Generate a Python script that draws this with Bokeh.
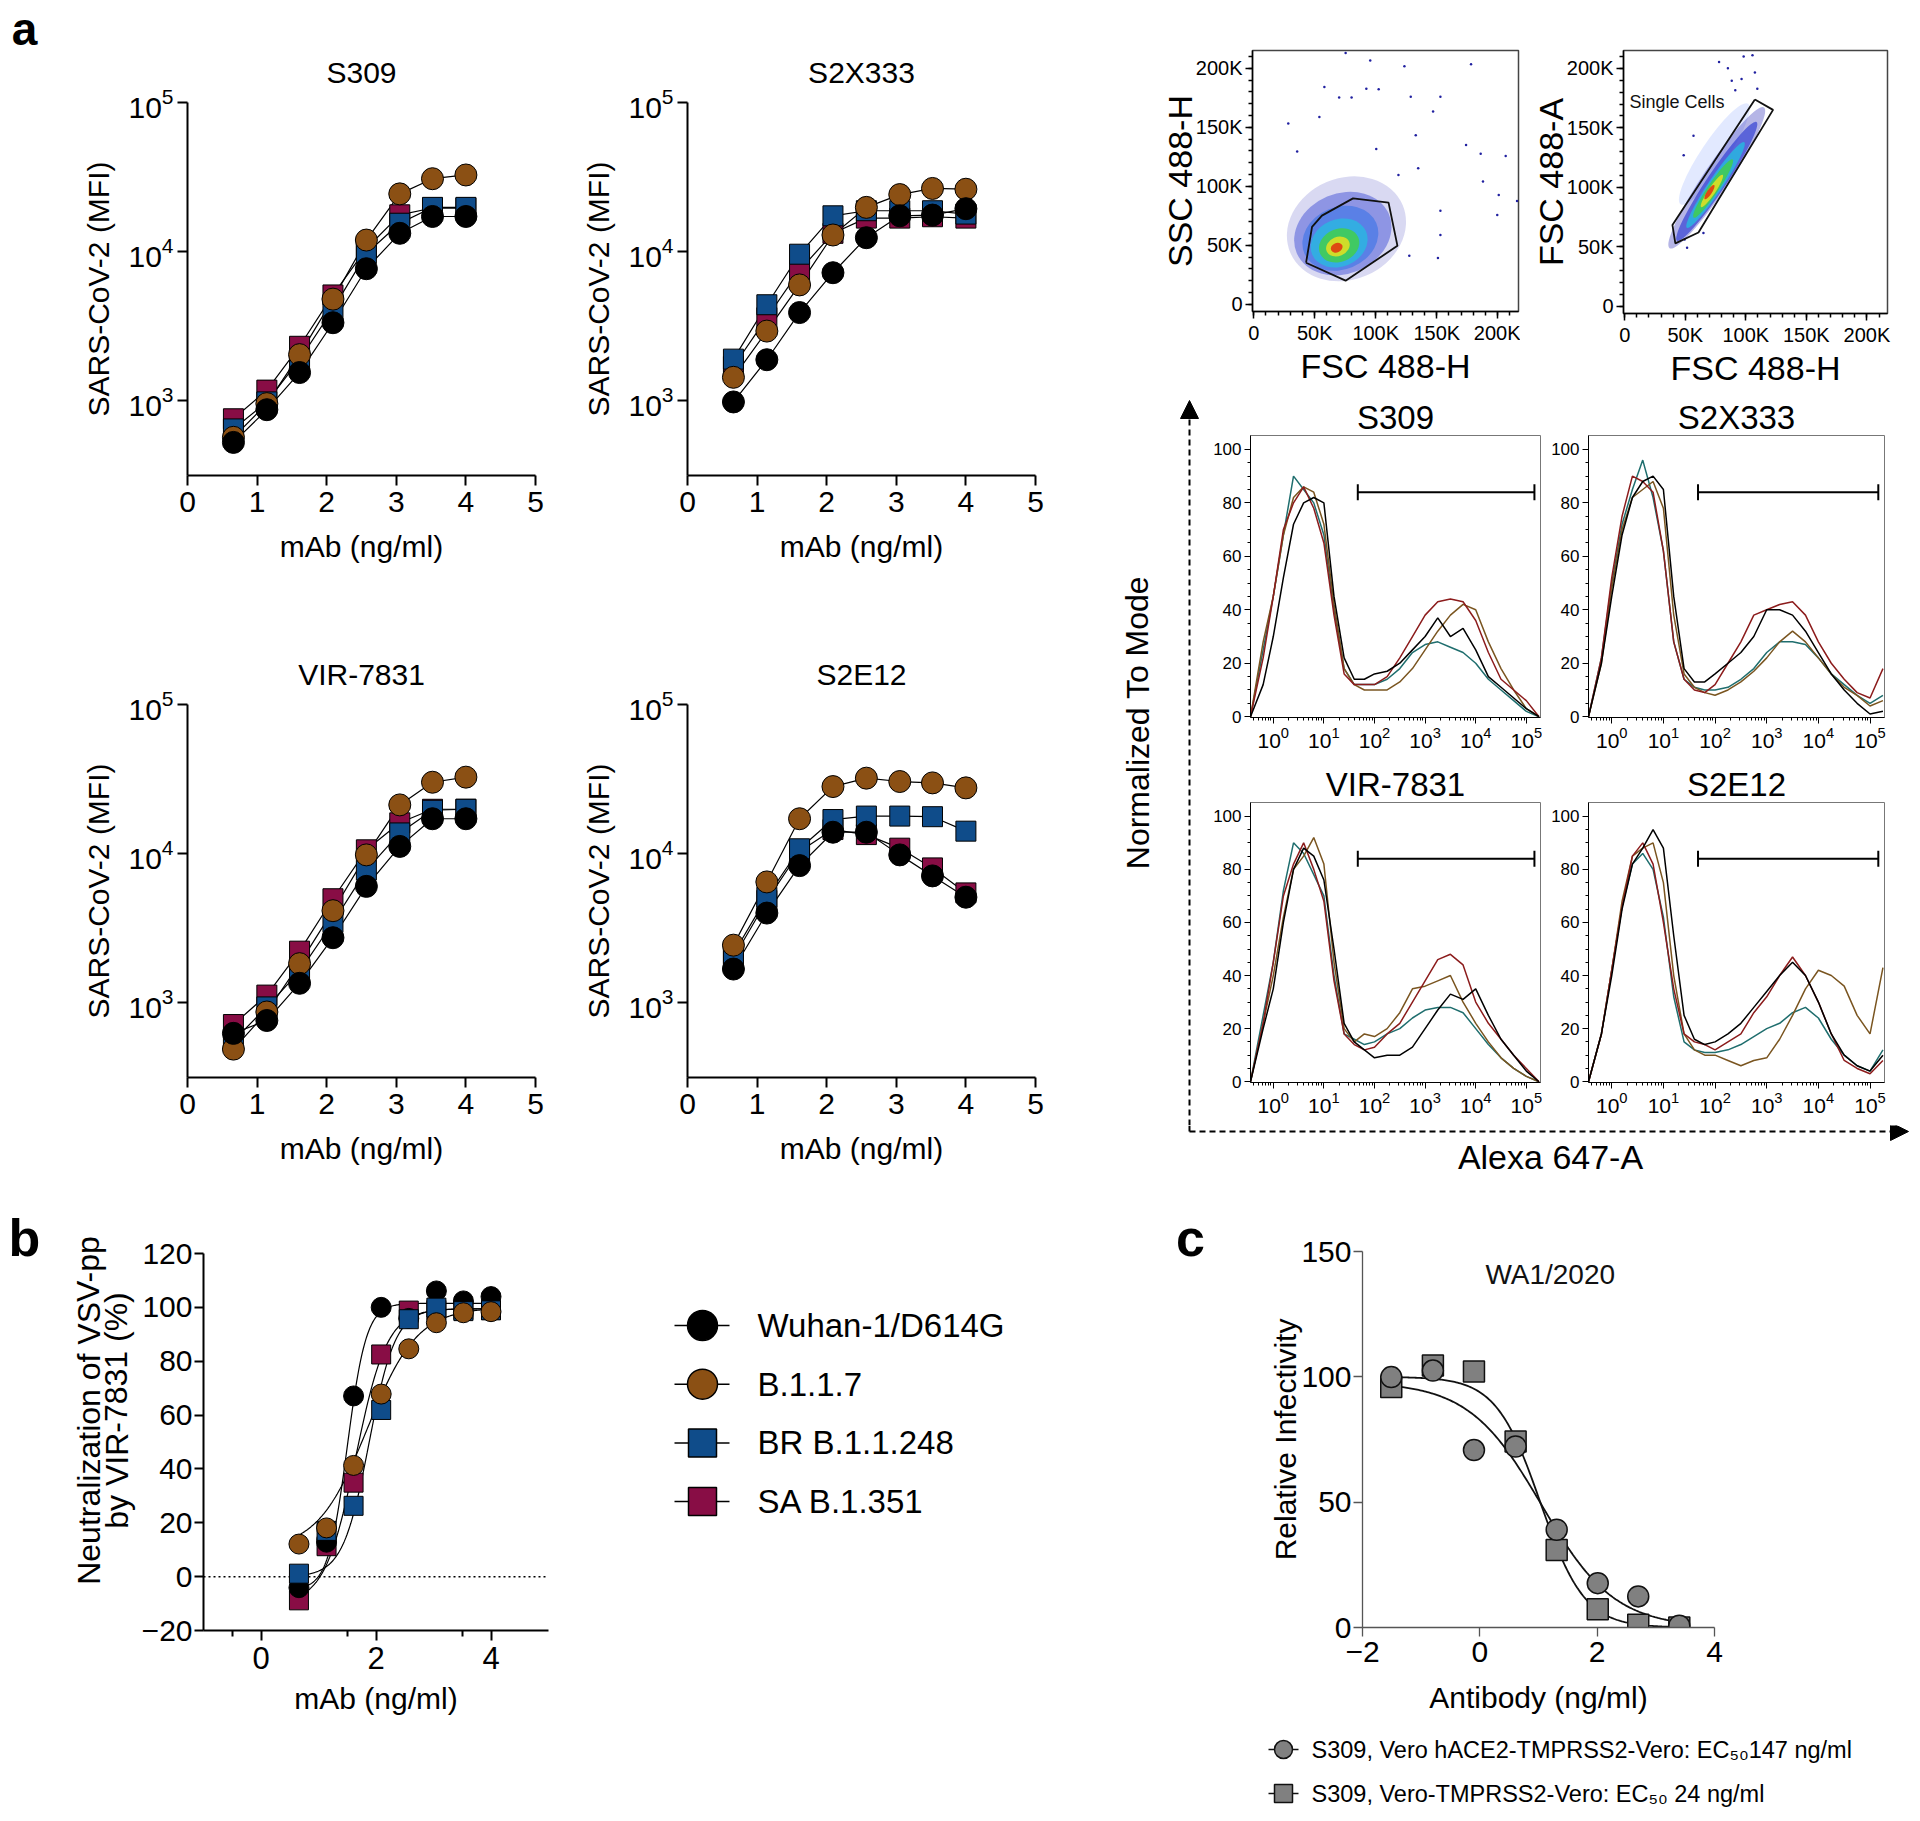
import math
from bokeh.plotting import figure
from bokeh.layouts import row, column
from bokeh.models import (Range1d, FixedTicker, Label, Arrow, NormalHead,
                          CustomJSTickFormatter)
from bokeh.core.properties import value
from bokeh.embed import file_html
from bokeh.resources import INLINE

SANS = "Liberation Sans"

# ---------------- panel a : binding curves ----------------
log_mab = [0.66, 1.14, 1.61, 2.09, 2.57, 3.05, 3.52, 4.00]
variant_names = ["Wuhan-1/D614G", "B.1.1.7", "BR B.1.1.248", "SA B.1.351"]
variant_colors = ["#000000", "#8B5014", "#0F4C8A", "#880D45"]
variant_markers = ["circle", "circle", "square", "square"]

s309_wuhan = [527, 873, 1549, 3342, 7690, 13280, 17220, 17220]
s309_b117 = [570, 959, 2042, 4810, 11970, 24410, 30850, 32680]
s309_br = [649, 985, 1888, 4120, 9720, 15520, 19820, 19820]
s309_sa = [759, 1181, 2323, 5130, 10500, 17670, 19620, 19620]

s2x333_wuhan = [984, 1888, 3910, 7230, 12410, 17400, 17600, 19420]
s2x333_b117 = [1439, 2937, 5990, 12940, 19820, 24150, 26540, 26230]
s2x333_br = [1905, 4410, 9620, 17400, 18820, 18820, 18820, 17870]
s2x333_sa = [1700, 3610, 7500, 13280, 16790, 16790, 17150, 16790]

vir7831_wuhan = [625, 762, 1353, 2735, 6040, 11190, 17150, 17150]
vir7831_b117 = [490, 869, 1832, 4150, 9820, 21240, 30130, 32590]
vir7831_br = [557, 940, 1625, 3460, 7760, 13780, 19550, 19850]
vir7831_sa = [716, 1128, 2222, 4990, 10620, 16110, 19850, 19850]

s2e12_wuhan = [1686, 4000, 8320, 13930, 13930, 9820, 7100, 5110]
s2e12_b117 = [2438, 6470, 17150, 28180, 32090, 30460, 29830, 27620]
s2e12_br = [2133, 5110, 10790, 16940, 17870, 17870, 17700, 14160]
s2e12_sa = [2000, 4860, 10350, 14520, 13430, 10890, 8030, 5460]

# ---------------- panel a : flow cytometry ----------------
ssc_dots_x = [75.3, 95.5, 123.5, 178.1, 57.9, 70.0, 80.2, 92.3, 102.4, 128.7, 153.0, 147.0,
              53.8, 28.3, 174.0, 186.0, 206.5, 187.9, 200.8, 199.6, 132.8, 100.4, 35.6,
              151.0, 127.5, 215.8, 153.0, 134.8, 118.6, 153.0]
ssc_dots_y = [212.9, 206.6, 201.7, 203.3, 184.0, 175.2, 175.2, 182.6, 182.1, 175.8, 175.8, 163.4,
              158.7, 153.2, 135.0, 127.5, 125.6, 104.1, 92.6, 75.8, 143.3, 131.7, 129.5,
              39.4, 41.3, 87.6, 58.7, 115.2, 109.6, 79.3]
ssc_density_x = [76, 73, 71, 70, 70, 69, 68]
ssc_density_y = [64, 60, 56, 52, 50, 49, 48]
ssc_density_w = [100, 82, 64, 48, 34, 20, 10]
ssc_density_h = [86, 68, 53, 40, 28, 16, 8]
density_colors7 = ["#2a2ab8", "#1f2fd0", "#2f6fe8", "#22c0e0", "#44d044", "#e8e020", "#e03a10"]
density_alpha7 = [0.18, 0.4, 0.55, 0.7, 0.8, 0.85, 0.9]
ssc_gate_x = [42.9, 47.8, 55.9, 81.4, 110.5, 117.8, 75.3, 42.9]
ssc_gate_y = [35.3, 65.6, 75.2, 89.8, 86.2, 49.6, 20.1, 35.3]

fsc_dots_x = [77.9, 98.2, 105.5, 85.2, 107.5, 88.4, 96.5, 109.5, 91.3, 49.5, 51.5, 65.0, 48.7, 56.8]
fsc_dots_y = [205.4, 210.0, 211.0, 200.0, 196.5, 189.6, 191.0, 182.8, 181.5, 56.1, 49.3, 61.6, 127.0, 143.3]
fsc_density_x = [74, 76, 76, 75, 73, 72, 70]
fsc_density_y = [128, 108, 105, 102, 99, 97, 96]
fsc_density_len = [100, 140, 118, 85, 58, 32, 14]
fsc_density_wid = [22, 22, 16, 12, 9, 6, 4]
fsc_density_colors = ["#7090ff", "#2a2ab8", "#1f2fd0", "#22c0e0", "#44d044", "#e8e020", "#e03a10"]
fsc_density_alpha = [0.2, 0.35, 0.6, 0.75, 0.8, 0.85, 0.9]
fsc_gate_x = [107.5, 122.5, 60.9, 41.8, 39.4, 107.5]
fsc_gate_y = [173.8, 165.1, 62.1, 52.9, 68.4, 173.8]

hist_decades = [-0.45, -0.2, 0.0, 0.2, 0.4, 0.6, 0.8, 1.0, 1.2, 1.4, 1.6, 1.8, 2.0,
                2.25, 2.5, 2.75, 3.0, 3.25, 3.5, 3.75, 4.0, 4.25, 4.5, 4.75, 5.0, 5.25]
hist_colors = ["#1f6e6e", "#7a5520", "#8c1c1c", "#000000"]   # teal, brown, red, black
hist_s309 = [
    [0, 25, 45, 68, 90, 85, 80, 68, 40, 18, 12, 12, 12, 14, 18, 24, 27, 28, 26, 24, 20, 14, 10, 6, 2, 0],
    [0, 28, 45, 68, 82, 86, 84, 72, 42, 18, 12, 10, 10, 10, 13, 18, 25, 32, 38, 42, 40, 28, 18, 10, 3, 0],
    [0, 22, 45, 70, 80, 86, 78, 65, 38, 16, 12, 12, 12, 15, 22, 30, 38, 43, 44, 43, 36, 24, 14, 10, 6, 0],
    [0, 12, 30, 52, 72, 80, 82, 80, 45, 22, 14, 14, 16, 17, 20, 25, 30, 37, 30, 33, 25, 15, 11, 7, 3, 0]]
hist_s2x333 = [
    [0, 22, 50, 72, 85, 96, 82, 62, 28, 14, 11, 10, 10, 11, 14, 18, 24, 28, 28, 27, 22, 16, 12, 8, 5, 8],
    [0, 20, 48, 70, 82, 85, 88, 78, 38, 16, 11, 9, 8, 10, 13, 17, 22, 28, 32, 28, 22, 16, 11, 8, 4, 6],
    [0, 22, 52, 75, 90, 88, 84, 62, 28, 14, 10, 9, 12, 20, 28, 38, 40, 42, 43, 38, 28, 20, 14, 9, 7, 18],
    [0, 20, 45, 68, 82, 88, 90, 85, 45, 18, 13, 13, 16, 20, 24, 30, 40, 40, 38, 32, 24, 16, 10, 5, 1, 2]]
hist_vir7831 = [
    [0, 25, 45, 72, 90, 86, 78, 70, 40, 18, 16, 14, 15, 18, 20, 24, 27, 28, 28, 26, 20, 14, 9, 5, 2, 0],
    [0, 22, 40, 62, 80, 85, 92, 82, 45, 20, 15, 18, 17, 20, 26, 35, 36, 38, 40, 30, 22, 15, 9, 5, 2, 0],
    [0, 22, 45, 70, 82, 90, 80, 68, 38, 18, 14, 12, 13, 18, 22, 30, 38, 46, 48, 44, 30, 22, 16, 10, 5, 0],
    [0, 20, 35, 60, 80, 88, 85, 76, 50, 22, 15, 12, 9, 10, 10, 13, 20, 27, 33, 31, 35, 25, 16, 10, 4, 0]]
hist_s2e12 = [
    [0, 18, 42, 66, 82, 86, 80, 62, 32, 15, 12, 11, 11, 12, 14, 17, 20, 22, 26, 28, 24, 16, 10, 6, 4, 12],
    [0, 18, 42, 68, 85, 88, 90, 75, 40, 18, 12, 10, 10, 8, 6, 8, 9, 16, 25, 35, 42, 40, 36, 25, 18, 43],
    [0, 18, 42, 66, 85, 90, 82, 60, 35, 18, 15, 14, 12, 15, 18, 26, 32, 40, 47, 40, 30, 18, 8, 5, 3, 8],
    [0, 18, 40, 65, 82, 88, 95, 88, 55, 25, 16, 14, 15, 18, 22, 28, 34, 40, 45, 40, 30, 18, 10, 6, 4, 10]]
hist_gate_decades = [1.67, 5.16]
hist_gate_level = 84

# ---------------- panel b : neutralization ----------------
neut_wuhan = [-4.1, 12.8, 67.1, 100.0, 95.9, 106.1, 102.4, 104.0]
neut_b117 = [12.1, 18.1, 41.3, 67.8, 84.6, 94.3, 98.0, 98.4]
neut_br = [1.1, 17.0, 26.3, 61.9, 95.6, 99.9, 98.6, 98.9]
neut_sa = [-8.8, 11.3, 34.9, 82.5, 98.8, 99.0, 99.0, 99.0]
b_fit_bottom = [-5.0, 10.0, 0.0, -10.0]
b_fit_top = [101.5, 100.0, 99.5, 99.5]
b_fit_logec50 = [1.50, 1.85, 1.88, 1.65]
b_fit_hill = [2.6, 1.0, 1.9, 1.6]
b_ylabel_lines = ["Neutralization of VSV-pp", "by VIR-7831 (%)"]

# ---------------- panel c : infectivity ----------------
c_log_conc = [-1.51, -0.80, -0.10, 0.61, 1.31, 2.01, 2.70, 3.40]
c_hace2 = [99.9, 102.5, 70.8, 72.2, 39.0, 17.7, 12.4, 0.7]
c_tmprss2 = [95.9, 104.5, 102.1, 74.2, 30.9, 7.3, 1.1, 0.0]
c_fit_top = [98.0, 100.0]
c_fit_logec50 = [1.05, 1.03]
c_fit_hill = [0.7, 1.15]
c_legend = ["S309, Vero hACE2-TMPRSS2-Vero: EC\u2085\u2080147 ng/ml",
            "S309, Vero-TMPRSS2-Vero: EC\u2085\u2080 24 ng/ml"]


# ================= helpers =================
def make_fig(w, h, xr, yr, ml, mr, mt, mb, **kw):
    p = figure(width=w, height=h, x_range=xr, y_range=yr, output_backend="svg",
               toolbar_location=None, min_border_left=ml, min_border_right=mr,
               min_border_top=mt, min_border_bottom=mb, frame_align=False, **kw)
    p.grid.visible = False
    p.outline_line_color = None
    return p


def set_title(p, text, size, standoff, offset=0):
    p.title.text = text
    p.title.align = "center"
    p.title.offset = offset
    p.title.text_font = SANS
    p.title.text_font_size = f"{size}px"
    p.title.text_font_style = "normal"
    p.title.text_color = "black"
    p.title.standoff = standoff


def style_axis(ax, size, lw, tick_out, label_size, minor_out=0,
               tick_standoff=4, label_standoff=6, color="black"):
    ax.axis_line_color = color
    ax.axis_line_width = lw
    ax.major_tick_line_color = color
    ax.major_tick_line_width = lw
    ax.major_tick_out = tick_out
    ax.major_tick_in = 0
    if minor_out:
        ax.minor_tick_line_color = color
        ax.minor_tick_line_width = lw
        ax.minor_tick_out = minor_out
        ax.minor_tick_in = 0
    else:
        ax.minor_tick_line_color = None
    ax.major_label_text_font = SANS
    ax.major_label_text_font_size = f"{size}px"
    ax.major_label_text_color = "black"
    ax.major_label_standoff = tick_standoff
    ax.axis_label_text_font = SANS
    ax.axis_label_text_font_style = "normal"
    ax.axis_label_text_font_size = f"{label_size}px"
    ax.axis_label_text_color = "black"
    ax.axis_label_standoff = label_standoff


def dose_panel(title, series, w, h, ml, mr, mt, mb, title_offset=0):
    p = make_fig(w, h, Range1d(0, 5), Range1d(10 ** 2.5, 1e5), ml, mr, mt, mb,
                 y_axis_type="log")
    set_title(p, title, 30, 27, title_offset)
    order = [3, 2, 1, 0]
    for i in order:
        p.line(log_mab, series[i], line_color="black", line_width=1.2)
    for i in order:
        p.scatter(log_mab, series[i], marker=variant_markers[i],
                  size=22 if variant_markers[i] == "circle" else 20,
                  fill_color=variant_colors[i], line_color="black", line_width=1)
    p.xaxis.ticker = FixedTicker(ticks=[0, 1, 2, 3, 4, 5])
    p.yaxis.ticker = FixedTicker(ticks=[1e3, 1e4, 1e5])
    p.xaxis.axis_label = "mAb (ng/ml)"
    p.yaxis.axis_label = "SARS-CoV-2 (MFI)"
    style_axis(p.xaxis[0], 30, 2, 10, 30, tick_standoff=6, label_standoff=15)
    style_axis(p.yaxis[0], 30, 2, 10, 30, tick_standoff=4, label_standoff=10)
    return p


def flow_scatter(w, h, ml, mr, mt, mb, ylabel, dens, dots, gate, single=False):
    p = make_fig(w, h, Range1d(-1, 217), Range1d(-6, 215), ml, mr, mt, mb)
    p.outline_line_color = "#444444"
    p.outline_line_width = 1.5
    dx, dy, dw, dh, dang, dcol, dalpha = dens
    p.ellipse(x=dx, y=dy, width=dw, height=dh, angle=dang, fill_color=dcol,
              fill_alpha=dalpha, line_color=None)
    p.scatter(dots[0], dots[1], size=2.5, color="#2020a0", line_color=None)
    p.line(gate[0], gate[1], line_color="#111111", line_width=1.8)
    fmt = CustomJSTickFormatter(code="return tick == 0 ? '0' : tick + 'K';")
    for ax in (p.xaxis[0], p.yaxis[0]):
        ax.ticker = FixedTicker(ticks=[0, 50, 100, 150, 200],
                                minor_ticks=list(range(0, 220, 10)))
        ax.formatter = fmt
        style_axis(ax, 20, 1.5, 7, 34, minor_out=4, tick_standoff=3)
    p.xaxis.axis_label = "FSC 488-H"
    p.yaxis.axis_label = ylabel
    p.xaxis.axis_label_standoff = 0
    p.yaxis.axis_label_standoff = -6
    if single:
        p.add_layout(Label(x=4, y=172, text="Single Cells", text_align="left",
                           text_baseline="middle", text_font=SANS, text_font_size="18px",
                           text_color="#111111"))
    return p


def hist_panel(title, curves, w, h, ml, mr, mt, mb, title_offset):
    p = make_fig(w, h, Range1d(10 ** -0.45, 10 ** 5.28), Range1d(-0.3, 105.2),
                 ml, mr, mt, mb, x_axis_type="log")
    set_title(p, title, 33, 0, title_offset)
    p.outline_line_color = "#777777"
    xs = [10 ** g for g in hist_decades]
    for col, ys in zip(hist_colors, curves):
        p.line(xs, ys, line_color=col, line_width=1.5)
    gx0, gx1 = 10 ** hist_gate_decades[0], 10 ** hist_gate_decades[1]
    p.segment(x0=[gx0, gx0, gx1], y0=[hist_gate_level, hist_gate_level - 3, hist_gate_level - 3],
              x1=[gx1, gx0, gx1], y1=[hist_gate_level, hist_gate_level + 3, hist_gate_level + 3],
              line_color="black", line_width=2)
    majors = [10 ** k for k in range(0, 6)]
    minors = [m * 10 ** k for k in range(-1, 6) for m in range(2, 10)
              if 10 ** -0.45 < m * 10 ** k < 10 ** 5.28]
    p.xaxis.ticker = FixedTicker(ticks=majors, minor_ticks=minors)
    p.yaxis.ticker = FixedTicker(ticks=[0, 20, 40, 60, 80, 100],
                                 minor_ticks=list(range(0, 105, 5)))
    style_axis(p.xaxis[0], 21, 1, 6, 17, minor_out=3, tick_standoff=3)
    style_axis(p.yaxis[0], 17, 1, 6, 17, minor_out=3, tick_standoff=3)
    return p


def pixel_fig(w, h):
    p = figure(width=w, height=h, x_range=Range1d(0, w), y_range=Range1d(h, 0),
               output_backend="svg", toolbar_location=None, x_axis_location=None,
               y_axis_location=None, min_border=0, frame_align=False)
    p.grid.visible = False
    p.outline_line_color = None
    return p


def letter_fig(w, h, letter, x, y, size):
    p = pixel_fig(w, h)
    p.text(x=[x], y=[y], text=[letter], text_font=value(SANS), text_font_size=f"{size}px",
           text_font_style="bold", text_align="center", text_baseline="middle",
           text_color="black")
    return p


def logistic(x, bottom, top, logec50, hill):
    return bottom + (top - bottom) / (1 + 10 ** ((logec50 - x) * hill))


# ================= panel a =================
let_a = letter_fig(60, 1195, "a", 24, 28, 46)
a1 = dose_panel("S309", [s309_wuhan, s309_b117, s309_br, s309_sa],
                500, 600, 127, 25, 102, 125, -8)
a2 = dose_panel("S2X333", [s2x333_wuhan, s2x333_b117, s2x333_br, s2x333_sa],
                550, 600, 127, 75, 102, 125)
a3 = dose_panel("VIR-7831", [vir7831_wuhan, vir7831_b117, vir7831_br, vir7831_sa],
                500, 595, 127, 25, 104, 118)
a4 = dose_panel("S2E12", [s2e12_wuhan, s2e12_b117, s2e12_br, s2e12_sa],
                550, 595, 127, 75, 104, 118)

sc1 = flow_scatter(410, 394, 142, 2, 50, 83, "SSC 488-H",
                   (ssc_density_x, ssc_density_y, ssc_density_w, ssc_density_h,
                    [0.4] * 7, density_colors7, density_alpha7),
                   (ssc_dots_x, ssc_dots_y), (ssc_gate_x, ssc_gate_y))
sc2 = flow_scatter(390, 394, 103, 23, 50, 81, "FSC 488-A",
                   (fsc_density_x, fsc_density_y, fsc_density_len, fsc_density_wid,
                    [0.98] * 7, fsc_density_colors, fsc_density_alpha),
                   (fsc_dots_x, fsc_dots_y), (fsc_gate_x, fsc_gate_y), single=True)

h1 = hist_panel("S309", hist_s309, 342, 366, 50, 2, 41, 43, -12)
h2 = hist_panel("S2X333", hist_s2x333, 368, 366, 46, 26, 41, 43, 9)
h3 = hist_panel("VIR-7831", hist_vir7831, 342, 365, 50, 2, 42, 43, -9)
h4 = hist_panel("S2E12", hist_s2e12, 368, 365, 46, 26, 42, 43, 12)

margin = pixel_fig(90, 731)
margin.add_layout(Arrow(end=NormalHead(size=18, fill_color="black", line_color="black"),
                        x_start=79, y_start=731, x_end=79, y_end=6,
                        line_color="black", line_width=2, line_dash="6 4"))
margin.text(x=[27], y=[328], text=["Normalized To Mode"], angle=[math.pi / 2],
            text_align="center", text_baseline="middle", text_font=value(SANS),
            text_font_size="32px", text_color="black")

bottom = pixel_fig(800, 70)
bottom.segment(x0=[79], y0=[0], x1=[79], y1=[6], line_color="black", line_width=2,
               line_dash="6 4")
bottom.add_layout(Arrow(end=NormalHead(size=18, fill_color="black", line_color="black"),
                        x_start=79, y_start=6, x_end=798, y_end=6,
                        line_color="black", line_width=2, line_dash="6 4"))
bottom.text(x=[440], y=[31], text=["Alexa 647-A"], text_align="center",
            text_baseline="middle", text_font=value(SANS), text_font_size="34px",
            text_color="black")

# ================= panel b =================
let_b = letter_fig(138, 616, "b", 24, 42, 52)
let_b.text(x=[88, 116], y=[215, 215], text=b_ylabel_lines, angle=[math.pi / 2] * 2,
           text_align="center", text_baseline="middle", text_font=value(SANS),
           text_font_size="32px", text_color="black")
pb = make_fig(482, 616, Range1d(-1, 5), Range1d(-20, 120), 65, 72, 58, 181)
b_series = [neut_wuhan, neut_b117, neut_br, neut_sa]
pb.line([-1, 5], [0, 0], line_color="black", line_width=1.5, line_dash="2 3")
for i in range(4):
    xs = [log_mab[0] + (log_mab[-1] - log_mab[0]) * k / 200 for k in range(201)]
    ys = [logistic(x, b_fit_bottom[i], b_fit_top[i], b_fit_logec50[i], b_fit_hill[i]) for x in xs]
    pb.line(xs, ys, line_color="black", line_width=1.2)
for i in [3, 0, 2, 1]:
    pb.scatter(log_mab, b_series[i], marker=variant_markers[i],
               size=20 if variant_markers[i] == "circle" else 19,
               fill_color=variant_colors[i], line_color="black", line_width=1)
pb.xaxis.ticker = FixedTicker(ticks=[0, 2, 4], minor_ticks=[-0.5, 1.5, 3.5])
pb.yaxis.ticker = FixedTicker(ticks=[-20, 0, 20, 40, 60, 80, 100, 120])
pb.xaxis.axis_label = "mAb (ng/ml)"
style_axis(pb.xaxis[0], 31, 2, 10, 30, minor_out=6, tick_standoff=6, label_standoff=10)
style_axis(pb.yaxis[0], 30, 2, 9, 30, tick_standoff=2, label_standoff=0)

leg_b = pixel_fig(395, 616)
rows_y = [130 + 58.7 * i for i in range(4)]
leg_b.segment(x0=[54] * 4, y0=rows_y, x1=[109] * 4, y1=rows_y, line_color="black", line_width=1.5)
leg_b.scatter(x=[82] * 4, y=rows_y, marker=variant_markers, size=[30, 30, 28, 28],
              fill_color=variant_colors, line_color="black", line_width=1.5)
leg_b.text(x=[137] * 4, y=rows_y, text=variant_names, text_font=value(SANS),
           text_font_size="33px", text_baseline="middle", text_color="black")

# ================= panel c =================
let_c = letter_fig(225, 530, "c", 175, 42, 52)
pc = make_fig(670, 530, Range1d(-2, 4), Range1d(0, 150), 122, 196, 56, 98)
for j in range(2):
    xs = [c_log_conc[0] + (c_log_conc[-1] - c_log_conc[0]) * k / 200 for k in range(201)]
    ys = [logistic(x, c_fit_top[j], 0.0, c_fit_logec50[j], c_fit_hill[j]) for x in xs]
    pc.line(xs, ys, line_color="#111111", line_width=1.8)
pc.scatter(c_log_conc, c_tmprss2, marker="square", size=21, fill_color="#808080",
           line_color="#111111", line_width=1.5)
pc.scatter(c_log_conc, c_hace2, marker="circle", size=21, fill_color="#808080",
           line_color="#111111", line_width=1.5)
pc.xaxis.ticker = FixedTicker(ticks=[-2, 0, 2, 4])
pc.yaxis.ticker = FixedTicker(ticks=[0, 50, 100, 150])
pc.xaxis.axis_label = "Antibody (ng/ml)"
pc.yaxis.axis_label = "Relative Infectivity"
style_axis(pc.xaxis[0], 30, 1.3, 9, 30, tick_standoff=5, label_standoff=16, color="#555555")
style_axis(pc.yaxis[0], 30, 1.3, 9, 30, tick_standoff=2, label_standoff=-4, color="#555555")
pc.add_layout(Label(x=1.2, y=141, text="WA1/2020", text_align="center", text_baseline="middle",
                    text_font=SANS, text_font_size="28px", text_color="#111111"))

leg_c = pixel_fig(895, 86)
leg_rows = [24, 68]
leg_c.segment(x0=[253, 253], y0=leg_rows, x1=[283, 283], y1=leg_rows, line_color="#111111",
              line_width=1.5)
leg_c.scatter(x=[268, 268], y=leg_rows, marker=["circle", "square"], size=18,
              fill_color="#808080", line_color="#111111", line_width=1.5)
leg_c.text(x=[296, 296], y=leg_rows, text=c_legend, text_font=value(SANS),
           text_font_size="23.5px", text_baseline="middle", text_color="black")

# ================= layout =================
left_block = row(let_a, column(row(a1, a2), row(a3, a4)))
right_block = column(row(sc1, sc2),
                     row(margin, column(row(h1, h2), row(h3, h4))),
                     bottom)
top = row(left_block, right_block)
bottom_row = row(let_b, pb, leg_b, column(row(let_c, pc), leg_c))
page = column(top, bottom_row)

open("out.html", "w").write(file_html(page, INLINE))
